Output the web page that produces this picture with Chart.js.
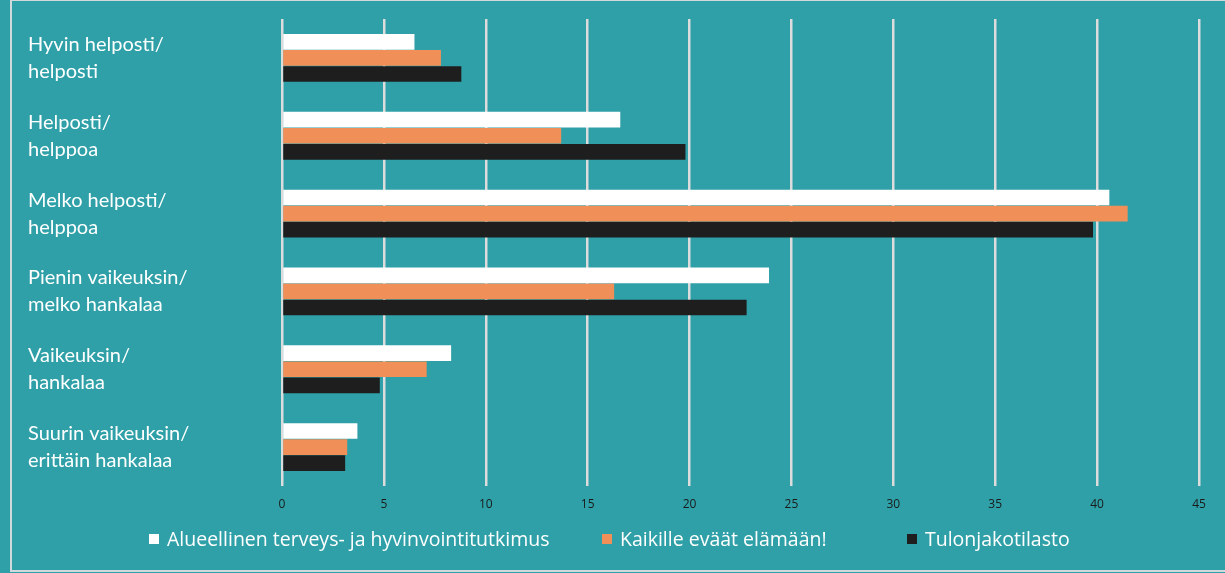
<!DOCTYPE html>
<html lang="fi">
<head>
    <meta charset="UTF-8">
    <title>Vaikeudet tulojen riittävyydessä</title>
    <style>
        html, body { margin: 0; padding: 0; background: #2fa0a8; }
        body { width: 1225px; height: 573px; position: relative; overflow: hidden; font-family: 'Open Sans', sans-serif; }
        .line { position: absolute; background: #d2d9da; }
        .chart-wrap { position: absolute; left: 0; top: 0; width: 1225px; height: 573px; }
        .legend-item { position: absolute; top: 527px; color: #fff; font-size: 19.5px; line-height: 24px; white-space: nowrap; }
        .legend-box { position: absolute; left: 0; top: 7px; width: 10px; height: 10px; }
        .legend-item span.txt { position: absolute; left: 18px; top: 0; }
    </style>
    <script src="https://cdn.jsdelivr.net/npm/chart.js"></script>
</head>
<body>
    <div class="line" style="left:10px; top:0; width:1215px; height:1px;"></div>
    <div class="line" style="left:10px; top:0; width:2px; height:572px;"></div>
    <div class="line" style="left:10px; top:570px; width:1215px; height:2px;"></div>
    <div class="chart-wrap"><canvas id="chart"></canvas></div>
    <div id="legend"></div>
    <script>
        const categories = [
            ['Hyvin helposti/', 'helposti'],
            ['Helposti/', 'helppoa'],
            ['Melko helposti/', 'helppoa'],
            ['Pienin vaikeuksin/', 'melko hankalaa'],
            ['Vaikeuksin/', 'hankalaa'],
            ['Suurin vaikeuksin/', 'erittäin hankalaa']
        ];
        const seriesNames = ['Alueellinen terveys- ja hyvinvointitutkimus', 'Kaikille eväät elämään!', 'Tulonjakotilasto'];
        const aluellinen = [6.5, 16.6, 40.6, 23.9, 8.3, 3.7];
        const kaikille = [7.8, 13.7, 41.5, 16.3, 7.1, 3.2];
        const tulonjako = [8.8, 19.8, 39.8, 22.8, 4.8, 3.1];
        const colors = ['#ffffff', '#f08f58', '#1e1e1e'];
        const xTicks = [0, 5, 10, 15, 20, 25, 30, 35, 40, 45];
        const legendLeft = [149, 602, 907];

        const seriesData = [aluellinen, kaikille, tulonjako];

        new Chart(document.getElementById('chart'), {
            type: 'bar',
            data: {
                labels: categories,
                datasets: seriesData.map((d, i) => ({
                    label: seriesNames[i],
                    data: d,
                    backgroundColor: colors[i],
                    borderWidth: 0,
                    categoryPercentage: 0.62,
                    barPercentage: 0.97
                }))
            },
            options: {
                indexAxis: 'y',
                responsive: true,
                maintainAspectRatio: false,
                animation: false,
                layout: { padding: { left: 28, right: 26, top: 19, bottom: 57 } },
                plugins: { legend: { display: false }, tooltip: { enabled: false } },
                scales: {
                    x: {
                        min: 0, max: 45,
                        afterBuildTicks: axis => { axis.ticks = xTicks.map(v => ({ value: v })); },
                        afterFit: axis => { axis.height = 30; },
                        grid: { color: '#dcdcdc', lineWidth: 2.5, drawTicks: false },
                        border: { display: false },
                        ticks: { color: '#1a1a1a', padding: 11, font: { family: 'Open Sans', size: 12 } }
                    },
                    y: {
                        afterFit: axis => { axis.width = 254; axis.paddingTop = 0; axis.paddingBottom = 0; },
                        grid: { display: false },
                        border: { display: false },
                        ticks: {
                            crossAlign: 'far',
                            color: '#ffffff',
                            font: { family: 'Lato', size: 20, lineHeight: 1.35 }
                        }
                    }
                }
            }
        });

        // legend
        const legend = document.getElementById('legend');
        seriesNames.forEach((name, i) => {
            legend.innerHTML += `<div class="legend-item" style="left:${legendLeft[i]}px"><div class="legend-box" style="background:${colors[i]}"></div><span class="txt">${name}</span></div>`;
        });
    </script>
</body>
</html>
